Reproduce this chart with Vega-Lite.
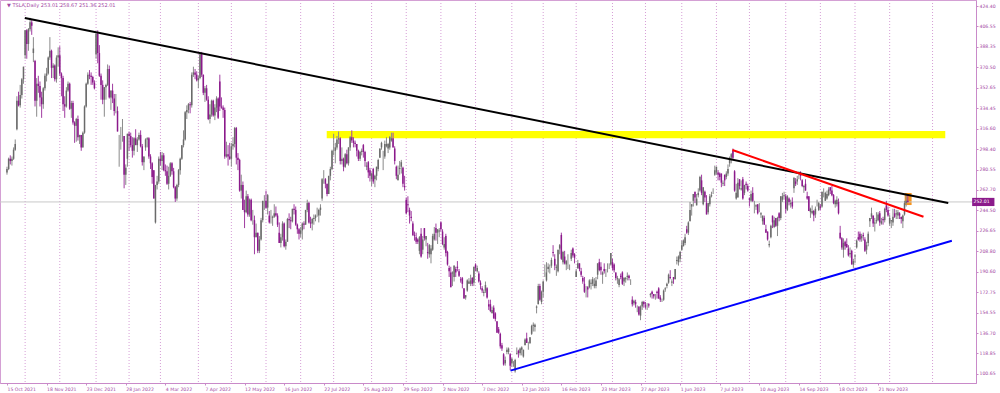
{
"$schema":"https://vega.github.io/schema/vega-lite/v6.json",
"width":976,"height":383,
"autosize":{"type":"none"},
"padding":{"left":0,"top":0,"right":24,"bottom":10},
"background":"white",
"config":{"view":{"stroke":"#d4a0d4","strokeWidth":1},"font":"DejaVu Sans","axis":{"labelOverlap":false,"labelBound":false,"labelFlush":false,"labelSeparation":0,"grid":false,"title":null}},
"resolve":{"scale":{"color":"independent"}},
"datasets":{
"candles":[
{"i":0,"o":278,"h":283,"l":276,"c":281},{"i":1,"o":281,"h":291,"l":280,"c":290},{"i":2,"o":290,"h":293,"l":285,"c":288},{"i":3,"o":288,"h":292,"l":284,"c":290},{"i":4,"o":290,"h":300,"l":289,"c":298},{"i":5,"o":298,"h":307,"l":297,"c":303},{"i":6,"o":316,"h":345,"l":315,"c":341},{"i":7,"o":341,"h":349,"l":336,"c":337},{"i":8,"o":337,"h":355,"l":335,"c":346},{"i":9,"o":346,"h":361,"l":343,"c":360},
{"i":10,"o":360,"h":371,"l":356,"c":371},{"i":11,"o":381,"h":403,"l":378,"c":403},{"i":12,"o":403,"h":404,"l":378,"c":391},{"i":13,"o":391,"h":405,"l":385,"c":404},{"i":14,"o":404,"h":414,"l":402,"c":410},{"i":15,"o":410,"h":412,"l":399,"c":407},{"i":16,"o":383,"h":397,"l":375,"c":387},{"i":17,"o":376,"h":377,"l":336,"c":341},{"i":18,"o":341,"h":361,"l":327,"c":356},{"i":19,"o":356,"h":363,"l":348,"c":354},
{"i":20,"o":354,"h":358,"l":336,"c":344},{"i":21,"o":344,"h":349,"l":326,"c":338},{"i":22,"o":338,"h":353,"l":334,"c":352},{"i":23,"o":352,"h":365,"l":350,"c":363},{"i":24,"o":363,"h":370,"l":358,"c":365},{"i":25,"o":365,"h":380,"l":364,"c":379},{"i":26,"o":379,"h":397,"l":377,"c":385},{"i":27,"o":385,"h":386,"l":361,"c":370},{"i":28,"o":370,"h":374,"l":361,"c":372},{"i":29,"o":372,"h":373,"l":358,"c":360},
{"i":30,"o":360,"h":381,"l":357,"c":379},{"i":31,"o":379,"h":388,"l":371,"c":381},{"i":32,"o":381,"h":389,"l":363,"c":365},{"i":33,"o":365,"h":366,"l":345,"c":361},{"i":34,"o":361,"h":363,"l":332,"c":338},{"i":35,"o":338,"h":345,"l":326,"c":336},{"i":36,"o":336,"h":353,"l":335,"c":350},{"i":37,"o":350,"h":358,"l":349,"c":356},{"i":38,"o":356,"h":357,"l":333,"c":334},{"i":39,"o":334,"h":341,"l":326,"c":339},
{"i":40,"o":339,"h":341,"l":320,"c":322},{"i":41,"o":322,"h":323,"l":304,"c":319},{"i":42,"o":319,"h":326,"l":305,"c":325},{"i":43,"o":325,"h":328,"l":306,"c":309},{"i":44,"o":309,"h":311,"l":303,"c":311},{"i":45,"o":311,"h":311,"l":297,"c":300},{"i":46,"o":300,"h":314,"l":300,"c":313},{"i":47,"o":313,"h":337,"l":312,"c":336},{"i":48,"o":336,"h":357,"l":335,"c":356},{"i":49,"o":356,"h":366,"l":355,"c":364},
{"i":50,"o":364,"h":368,"l":360,"c":363},{"i":51,"o":363,"h":366,"l":355,"c":362},{"i":52,"o":362,"h":363,"l":355,"c":357},{"i":53,"o":357,"h":359,"l":351,"c":352},{"i":54,"o":382,"h":400,"l":378,"c":400},{"i":55,"o":400,"h":403,"l":374,"c":383},{"i":56,"o":383,"h":390,"l":362,"c":363},{"i":57,"o":363,"h":365,"l":342,"c":355},{"i":58,"o":355,"h":359,"l":338,"c":342},{"i":59,"o":342,"h":353,"l":327,"c":353},
{"i":60,"o":353,"h":356,"l":342,"c":355},{"i":61,"o":355,"h":373,"l":354,"c":369},{"i":62,"o":369,"h":372,"l":343,"c":344},{"i":63,"o":344,"h":350,"l":333,"c":350},{"i":64,"o":350,"h":356,"l":339,"c":343},{"i":65,"o":343,"h":347,"l":328,"c":332},{"i":66,"o":332,"h":347,"l":330,"c":332},{"i":67,"o":332,"h":336,"l":314,"c":314},{"i":68,"o":310,"h":311,"l":283,"c":310},{"i":69,"o":306,"h":318,"l":298,"c":306},
{"i":70,"o":312,"h":325,"l":305,"c":312},{"i":71,"o":310,"h":310,"l":264,"c":276},{"i":72,"o":276,"h":285,"l":267,"c":282},{"i":73,"o":290,"h":312,"l":283,"c":312},{"i":74,"o":312,"h":314,"l":297,"c":310},{"i":75,"o":310,"h":313,"l":300,"c":302},{"i":76,"o":302,"h":309,"l":291,"c":297},{"i":77,"o":297,"h":309,"l":293,"c":308},{"i":78,"o":308,"h":316,"l":302,"c":302},{"i":79,"o":302,"h":309,"l":296,"c":307},
{"i":80,"o":307,"h":313,"l":306,"c":311},{"i":81,"o":311,"h":315,"l":300,"c":301},{"i":82,"o":301,"h":303,"l":284,"c":287},{"i":83,"o":287,"h":292,"l":280,"c":292},{"i":84,"o":300,"h":308,"l":297,"c":307},{"i":85,"o":307,"h":309,"l":300,"c":308},{"i":86,"o":308,"h":309,"l":290,"c":292},{"i":87,"o":292,"h":294,"l":281,"c":286},{"i":88,"o":286,"h":287,"l":268,"c":274},{"i":89,"o":280,"h":280,"l":255,"c":255},
{"i":90,"o":234,"h":267,"l":233,"c":267},{"i":91,"o":267,"h":275,"l":263,"c":270},{"i":92,"o":270,"h":292,"l":268,"c":290},{"i":93,"o":290,"h":296,"l":284,"c":288},{"i":94,"o":288,"h":296,"l":280,"c":293},{"i":95,"o":293,"h":295,"l":279,"c":280},{"i":96,"o":280,"h":285,"l":275,"c":279},{"i":97,"o":279,"h":284,"l":267,"c":268},{"i":98,"o":268,"h":283,"l":263,"c":275},{"i":99,"o":275,"h":287,"l":274,"c":286},
{"i":100,"o":286,"h":287,"l":276,"c":279},{"i":101,"o":279,"h":282,"l":264,"c":265},{"i":102,"o":265,"h":266,"l":252,"c":255},{"i":103,"o":255,"h":268,"l":253,"c":267},{"i":104,"o":267,"h":281,"l":265,"c":280},{"i":105,"o":280,"h":291,"l":276,"c":290},{"i":106,"o":290,"h":302,"l":289,"c":302},{"i":107,"o":302,"h":315,"l":300,"c":307},{"i":108,"o":307,"h":332,"l":306,"c":331},{"i":109,"o":331,"h":337,"l":325,"c":333},
{"i":110,"o":333,"h":339,"l":330,"c":338},{"i":111,"o":338,"h":340,"l":330,"c":337},{"i":112,"o":337,"h":366,"l":335,"c":364},{"i":113,"o":364,"h":371,"l":362,"c":366},{"i":114,"o":366,"h":369,"l":360,"c":364},{"i":115,"o":364,"h":367,"l":358,"c":359},{"i":116,"o":359,"h":363,"l":352,"c":361},{"i":117,"o":361,"h":384,"l":360,"c":382},{"i":118,"o":382,"h":384,"l":362,"c":364},{"i":119,"o":364,"h":364,"l":346,"c":348},
{"i":120,"o":348,"h":354,"l":340,"c":352},{"i":121,"o":352,"h":355,"l":341,"c":342},{"i":122,"o":342,"h":345,"l":324,"c":325},{"i":123,"o":325,"h":338,"l":321,"c":329},{"i":124,"o":329,"h":342,"l":327,"c":341},{"i":125,"o":341,"h":342,"l":327,"c":328},{"i":126,"o":328,"h":338,"l":324,"c":335},{"i":127,"o":335,"h":345,"l":331,"c":343},{"i":128,"o":343,"h":344,"l":325,"c":326},{"i":129,"o":358,"h":364,"l":332,"c":336},
{"i":130,"o":336,"h":344,"l":334,"c":335},{"i":131,"o":335,"h":337,"l":326,"c":333},{"i":132,"o":333,"h":335,"l":290,"c":292},{"i":133,"o":292,"h":305,"l":291,"c":294},{"i":134,"o":294,"h":302,"l":284,"c":292},{"i":135,"o":292,"h":304,"l":289,"c":290},{"i":136,"o":290,"h":304,"l":283,"c":301},{"i":137,"o":301,"h":309,"l":298,"c":303},{"i":138,"o":303,"h":318,"l":300,"c":317},{"i":139,"o":317,"h":318,"l":285,"c":291},
{"i":140,"o":291,"h":295,"l":280,"c":289},{"i":141,"o":289,"h":290,"l":261,"c":262},{"i":142,"o":262,"h":276,"l":255,"c":267},{"i":143,"o":267,"h":270,"l":245,"c":245},{"i":144,"o":245,"h":254,"l":229,"c":243},{"i":145,"o":243,"h":262,"l":242,"c":257},{"i":146,"o":257,"h":259,"l":239,"c":241},{"i":147,"o":241,"h":255,"l":239,"c":254},{"i":148,"o":254,"h":255,"l":235,"c":236},{"i":149,"o":236,"h":245,"l":232,"c":236},
{"i":150,"o":236,"h":240,"l":206,"c":221},{"i":151,"o":221,"h":233,"l":221,"c":225},{"i":152,"o":225,"h":225,"l":207,"c":209},{"i":153,"o":209,"h":222,"l":207,"c":219},{"i":154,"o":219,"h":238,"l":218,"c":236},{"i":155,"o":236,"h":253,"l":234,"c":253},{"i":156,"o":253,"h":258,"l":245,"c":253},{"i":157,"o":253,"h":262,"l":246,"c":247},{"i":158,"o":247,"h":259,"l":241,"c":258},{"i":159,"o":240,"h":244,"l":233,"c":234},
{"i":160,"o":238,"h":245,"l":233,"c":238},{"i":161,"o":238,"h":240,"l":231,"c":239},{"i":162,"o":239,"h":250,"l":238,"c":242},{"i":163,"o":242,"h":248,"l":239,"c":240},{"i":164,"o":240,"h":242,"l":230,"c":232},{"i":165,"o":225,"h":234,"l":216,"c":216},{"i":166,"o":216,"h":224,"l":212,"c":221},{"i":167,"o":221,"h":235,"l":218,"c":233},{"i":168,"o":233,"h":234,"l":212,"c":213},{"i":169,"o":213,"h":219,"l":210,"c":217},
{"i":170,"o":217,"h":238,"l":217,"c":237},{"i":171,"o":237,"h":242,"l":229,"c":236},{"i":172,"o":236,"h":239,"l":228,"c":235},{"i":173,"o":235,"h":246,"l":234,"c":246},{"i":174,"o":246,"h":250,"l":241,"c":245},{"i":175,"o":245,"h":248,"l":231,"c":232},{"i":176,"o":232,"h":233,"l":224,"c":228},{"i":177,"o":228,"h":229,"l":219,"c":224},{"i":178,"o":224,"h":230,"l":221,"c":227},{"i":179,"o":227,"h":234,"l":219,"c":233},
{"i":180,"o":233,"h":235,"l":228,"c":232},{"i":181,"o":232,"h":245,"l":232,"c":245},{"i":182,"o":245,"h":254,"l":243,"c":251},{"i":183,"o":251,"h":252,"l":233,"c":234},{"i":184,"o":234,"h":239,"l":229,"c":233},{"i":185,"o":233,"h":238,"l":227,"c":237},{"i":186,"o":237,"h":241,"l":232,"c":238},{"i":187,"o":238,"h":241,"l":235,"c":240},{"i":188,"o":240,"h":247,"l":239,"c":240},{"i":189,"o":240,"h":246,"l":234,"c":245},
{"i":190,"o":245,"h":250,"l":240,"c":247},{"i":191,"o":255,"h":273,"l":253,"c":272},{"i":192,"o":272,"h":280,"l":268,"c":272},{"i":193,"o":272,"h":273,"l":264,"c":268},{"i":194,"o":268,"h":268,"l":257,"c":259},{"i":195,"o":259,"h":275,"l":259,"c":275},{"i":196,"o":275,"h":283,"l":271,"c":281},{"i":197,"o":281,"h":298,"l":280,"c":297},{"i":198,"o":297,"h":312,"l":293,"c":297},{"i":199,"o":297,"h":304,"l":286,"c":300},
{"i":200,"o":300,"h":310,"l":298,"c":307},{"i":201,"o":307,"h":314,"l":303,"c":308},{"i":202,"o":308,"h":309,"l":285,"c":288},{"i":203,"o":288,"h":300,"l":285,"c":290},{"i":204,"o":290,"h":291,"l":279,"c":283},{"i":205,"o":283,"h":295,"l":282,"c":294},{"i":206,"o":294,"h":298,"l":285,"c":286},{"i":207,"o":286,"h":300,"l":284,"c":300},{"i":208,"o":300,"h":310,"l":297,"c":309},{"i":209,"o":309,"h":315,"l":304,"c":306},
{"i":210,"o":306,"h":309,"l":300,"c":304},{"i":211,"o":304,"h":306,"l":300,"c":303},{"i":212,"o":303,"h":303,"l":292,"c":297},{"i":213,"o":297,"h":298,"l":288,"c":290},{"i":214,"o":290,"h":297,"l":288,"c":296},{"i":215,"o":296,"h":299,"l":293,"c":297},{"i":216,"o":302,"h":303,"l":291,"c":296},{"i":217,"o":296,"h":297,"l":283,"c":288},{"i":218,"o":283,"h":287,"l":280,"c":284},{"i":219,"o":287,"h":288,"l":273,"c":278},
{"i":220,"o":280,"h":282,"l":270,"c":275},{"i":221,"o":272,"h":278,"l":266,"c":277},{"i":222,"o":281,"h":282,"l":268,"c":270},{"i":223,"o":272,"h":276,"l":265,"c":275},{"i":224,"o":275,"h":283,"l":271,"c":283},{"i":225,"o":281,"h":290,"l":279,"c":289},{"i":226,"o":291,"h":299,"l":291,"c":299},{"i":227,"o":300,"h":305,"l":298,"c":304},{"i":228,"o":292,"h":297,"l":280,"c":292},{"i":229,"o":292,"h":306,"l":290,"c":303},
{"i":230,"o":301,"h":309,"l":300,"c":303},{"i":231,"o":299,"h":304,"l":295,"c":303},{"i":232,"o":300,"h":310,"l":298,"c":309},{"i":233,"o":306,"h":313,"l":305,"c":308},{"i":234,"o":308,"h":313,"l":300,"c":300},{"i":235,"o":299,"h":301,"l":285,"c":288},{"i":236,"o":283,"h":284,"l":272,"c":275},{"i":237,"o":271,"h":284,"l":271,"c":276},{"i":238,"o":281,"h":288,"l":276,"c":282},{"i":239,"o":283,"h":289,"l":277,"c":287},
{"i":240,"o":282,"h":283,"l":265,"c":268},{"i":241,"o":266,"h":275,"l":262,"c":265},{"i":242,"o":254,"h":256,"l":241,"c":242},{"i":243,"o":250,"h":257,"l":243,"c":249},{"i":244,"o":245,"h":247,"l":233,"c":240},{"i":245,"o":239,"h":244,"l":235,"c":238},{"i":246,"o":233,"h":235,"l":222,"c":223},{"i":247,"o":223,"h":226,"l":218,"c":222},{"i":248,"o":221,"h":225,"l":215,"c":217},{"i":249,"o":219,"h":220,"l":215,"c":217},
{"i":250,"o":209,"h":222,"l":206,"c":221},{"i":251,"o":224,"h":229,"l":203,"c":204},{"i":252,"o":210,"h":222,"l":206,"c":219},{"i":253,"o":229,"h":229,"l":218,"c":220},{"i":254,"o":219,"h":222,"l":213,"c":222},{"i":255,"o":208,"h":216,"l":202,"c":207},{"i":256,"o":206,"h":215,"l":203,"c":214},{"i":257,"o":206,"h":214,"l":198,"c":211},{"i":258,"o":210,"h":224,"l":209,"c":222},{"i":259,"o":219,"h":230,"l":218,"c":224},
{"i":260,"o":229,"h":233,"l":218,"c":225},{"i":261,"o":225,"h":228,"l":215,"c":228},{"i":262,"o":226,"h":229,"l":221,"c":227},{"i":263,"o":234,"h":235,"l":226,"c":228},{"i":264,"o":226,"h":228,"l":214,"c":215},{"i":265,"o":212,"h":221,"l":210,"c":215},{"i":266,"o":222,"h":224,"l":204,"c":207},{"i":267,"o":208,"h":209,"l":196,"c":197},{"i":268,"o":194,"h":196,"l":186,"c":191},{"i":269,"o":190,"h":195,"l":177,"c":177},
{"i":270,"o":189,"h":191,"l":178,"c":190},{"i":271,"o":186,"h":196,"l":182,"c":196},{"i":272,"o":193,"h":195,"l":186,"c":190},{"i":273,"o":195,"h":200,"l":191,"c":194},{"i":274,"o":191,"h":193,"l":186,"c":187},{"i":275,"o":184,"h":186,"l":181,"c":183},{"i":276,"o":185,"h":186,"l":176,"c":180},{"i":277,"o":176,"h":176,"l":167,"c":167},{"i":278,"o":168,"h":170,"l":166,"c":170},{"i":279,"o":174,"h":184,"l":173,"c":183},
{"i":280,"o":180,"h":185,"l":180,"c":182},{"i":281,"o":180,"h":188,"l":178,"c":183},{"i":282,"o":185,"h":186,"l":178,"c":180},{"i":283,"o":181,"h":195,"l":178,"c":195},{"i":284,"o":197,"h":198,"l":191,"c":194},{"i":285,"o":191,"h":196,"l":190,"c":194},{"i":286,"o":189,"h":191,"l":181,"c":182},{"i":287,"o":181,"h":183,"l":175,"c":179},{"i":288,"o":176,"h":178,"l":172,"c":174},{"i":289,"o":172,"h":175,"l":169,"c":173},
{"i":290,"o":174,"h":182,"l":172,"c":179},{"i":291,"o":176,"h":177,"l":167,"c":168},{"i":292,"o":162,"h":166,"l":157,"c":160},{"i":293,"o":162,"h":166,"l":155,"c":156},{"i":294,"o":154,"h":160,"l":154,"c":157},{"i":295,"o":159,"h":161,"l":149,"c":150},{"i":296,"o":154,"h":155,"l":147,"c":149},{"i":297,"o":147,"h":147,"l":137,"c":137},{"i":298,"o":140,"h":142,"l":136,"c":137},{"i":299,"o":136,"h":137,"l":123,"c":125},
{"i":300,"o":126,"h":128,"l":121,"c":123},{"i":301,"o":118,"h":119,"l":108,"c":109},{"i":302,"o":110,"h":116,"l":108,"c":113},{"i":303,"o":120,"h":124,"l":118,"c":122},{"i":304,"o":120,"h":124,"l":118,"c":123},{"i":305,"o":118,"h":119,"l":104,"c":108},{"i":306,"o":110,"h":115,"l":107,"c":114},{"i":307,"o":110,"h":112,"l":107,"c":110},{"i":308,"o":103,"h":114,"l":101.8,"c":113},{"i":309,"o":118,"h":124,"l":118,"c":119},
{"i":310,"o":121,"h":122,"l":115,"c":119},{"i":311,"o":119,"h":124,"l":117,"c":123},{"i":312,"o":122,"h":125,"l":117,"c":124},{"i":313,"o":116,"h":122,"l":115,"c":122},{"i":314,"o":126,"h":132,"l":126,"c":131},{"i":315,"o":132,"h":137,"l":128,"c":128},{"i":316,"o":127,"h":129,"l":122,"c":127},{"i":317,"o":128,"h":133,"l":127,"c":133},{"i":318,"o":136,"h":144,"l":135,"c":143},{"i":319,"o":143,"h":146,"l":138,"c":144},
{"i":320,"o":142,"h":145,"l":138,"c":144},{"i":321,"o":159,"h":161,"l":154,"c":160},{"i":322,"o":162,"h":180,"l":162,"c":178},{"i":323,"o":178,"h":180,"l":165,"c":166},{"i":324,"o":164,"h":174,"l":162,"c":173},{"i":325,"o":173,"h":183,"l":168,"c":182},{"i":326,"o":188,"h":197,"l":186,"c":188},{"i":327,"o":183,"h":199,"l":182,"c":190},{"i":328,"o":193,"h":198,"l":190,"c":195},{"i":329,"o":196,"h":197,"l":189,"c":196},
{"i":330,"o":196,"h":203,"l":194,"c":201},{"i":331,"o":208,"h":214,"l":204,"c":207},{"i":332,"o":202,"h":206,"l":192,"c":196},{"i":333,"o":194,"h":197,"l":187,"c":195},{"i":334,"o":191,"h":210,"l":190,"c":210},{"i":335,"o":211,"h":215,"l":206,"c":214},{"i":336,"o":223,"h":225,"l":201,"c":202},{"i":337,"o":199,"h":209,"l":197,"c":208},{"i":338,"o":204,"h":209,"l":197,"c":198},{"i":339,"o":197,"h":201,"l":192,"c":200},
{"i":340,"o":203,"h":206,"l":193,"c":203},{"i":341,"o":196,"h":197,"l":192,"c":196},{"i":342,"o":202,"h":210,"l":200,"c":207},{"i":343,"o":211,"h":212,"l":203,"c":205},{"i":344,"o":206,"h":207,"l":198,"c":203},{"i":345,"o":186,"h":193,"l":186,"c":191},{"i":346,"o":194,"h":201,"l":193,"c":198},{"i":347,"o":198,"h":198,"l":191,"c":193},{"i":348,"o":191,"h":194,"l":186,"c":188},{"i":349,"o":185,"h":187,"l":180,"c":182},
{"i":350,"o":180,"h":186,"l":172,"c":173},{"i":351,"o":173,"h":178,"l":168,"c":173},{"i":352,"o":177,"h":178,"l":168,"c":175},{"i":353,"o":177,"h":184,"l":176,"c":183},{"i":354,"o":180,"h":184,"l":175,"c":181},{"i":355,"o":180,"h":186,"l":178,"c":184},{"i":356,"o":178,"h":185,"l":176,"c":180},{"i":357,"o":178,"h":186,"l":176,"c":183},{"i":358,"o":188,"h":198,"l":184,"c":198},{"i":359,"o":199,"h":202,"l":191,"c":192},
{"i":360,"o":195,"h":199,"l":188,"c":192},{"i":361,"o":188,"h":191,"l":180,"c":190},{"i":362,"o":193,"h":198,"l":189,"c":191},{"i":363,"o":189,"h":193,"l":186,"c":189},{"i":364,"o":193,"h":198,"l":190,"c":193},{"i":365,"o":195,"h":198,"l":193,"c":195},{"i":366,"o":197,"h":207,"l":196,"c":207},{"i":367,"o":199,"h":202,"l":192,"c":194},{"i":368,"o":197,"h":198,"l":190,"c":192},{"i":369,"o":190,"h":190,"l":183,"c":185},
{"i":370,"o":184,"h":187,"l":180,"c":185},{"i":371,"o":179,"h":185,"l":177,"c":184},{"i":372,"o":187,"h":189,"l":184,"c":186},{"i":373,"o":190,"h":191,"l":179,"c":180},{"i":374,"o":182,"h":186,"l":178,"c":185},{"i":375,"o":184,"h":186,"l":181,"c":185},{"i":376,"o":186,"h":190,"l":183,"c":187},{"i":377,"o":187,"h":188,"l":183,"c":185},{"i":378,"o":180,"h":184,"l":179,"c":180},{"i":379,"o":166,"h":169,"l":160,"c":162},
{"i":380,"o":163,"h":166,"l":161,"c":165},{"i":381,"o":164,"h":166,"l":159,"c":162},{"i":382,"o":160,"h":161,"l":155,"c":160},{"i":383,"o":160,"h":160,"l":152,"c":153},{"i":384,"o":152,"h":161,"l":148,"c":160},{"i":385,"o":160,"h":165,"l":157,"c":164},{"i":386,"o":164,"h":165,"l":159,"c":162},{"i":387,"o":161,"h":164,"l":158,"c":160},{"i":388,"o":160,"h":163,"l":157,"c":160},{"i":389,"o":162,"h":163,"l":159,"c":161},
{"i":390,"o":170,"h":172,"l":168,"c":171},{"i":391,"o":173,"h":174,"l":167,"c":171},{"i":392,"o":171,"h":171,"l":167,"c":169},{"i":393,"o":168,"h":171,"l":166,"c":168},{"i":394,"o":173,"h":174,"l":167,"c":172},{"i":395,"o":176,"h":177,"l":167,"c":167},{"i":396,"o":168,"h":170,"l":164,"c":166},{"i":397,"o":166,"h":167,"l":164,"c":166},{"i":398,"o":166,"h":175,"l":165,"c":174},{"i":399,"o":175,"h":177,"l":173,"c":176},
{"i":400,"o":178,"h":181,"l":176,"c":180},{"i":401,"o":181,"h":189,"l":180,"c":188},{"i":402,"o":186,"h":192,"l":184,"c":185},{"i":403,"o":181,"h":184,"l":178,"c":182},{"i":404,"o":186,"h":186,"l":180,"c":184},{"i":405,"o":184,"h":193,"l":184,"c":193},{"i":406,"o":200,"h":204,"l":197,"c":201},{"i":407,"o":199,"h":205,"l":196,"c":204},{"i":408,"o":202,"h":209,"l":199,"c":208},{"i":409,"o":210,"h":218,"l":209,"c":214},
{"i":410,"o":213,"h":219,"l":213,"c":218},{"i":411,"o":216,"h":224,"l":214,"c":221},{"i":412,"o":228,"h":231,"l":224,"c":225},{"i":413,"o":225,"h":235,"l":223,"c":234},{"i":414,"o":235,"h":252,"l":235,"c":245},{"i":415,"o":248,"h":250,"l":240,"c":250},{"i":416,"o":253,"h":259,"l":248,"c":259},{"i":417,"o":261,"h":261,"l":251,"c":256},{"i":418,"o":249,"h":259,"l":249,"c":255},{"i":419,"o":258,"h":264,"l":256,"c":260},
{"i":420,"o":262,"h":275,"l":261,"c":274},{"i":421,"o":271,"h":276,"l":258,"c":260},{"i":422,"o":250,"h":265,"l":249,"c":265},{"i":423,"o":261,"h":262,"l":252,"c":256},{"i":424,"o":251,"h":258,"l":241,"c":241},{"i":425,"o":243,"h":250,"l":241,"c":251},{"i":426,"o":250,"h":259,"l":248,"c":257},{"i":427,"o":257,"h":261,"l":256,"c":258},{"i":428,"o":261,"h":264,"l":259,"c":261},{"i":429,"o":276,"h":284,"l":275,"c":280},
{"i":430,"o":278,"h":283,"l":276,"c":283},{"i":431,"o":278,"h":280,"l":271,"c":276},{"i":432,"o":277,"h":278,"l":271,"c":274},{"i":433,"o":277,"h":277,"l":265,"c":269},{"i":434,"o":268,"h":271,"l":266,"c":269},{"i":435,"o":276,"h":276,"l":266,"c":271},{"i":436,"o":274,"h":279,"l":272,"c":277},{"i":437,"o":277,"h":285,"l":275,"c":281},{"i":438,"o":286,"h":292,"l":283,"c":291},{"i":439,"o":291,"h":295,"l":286,"c":294},
{"i":440,"o":297,"h":299,"l":289,"c":291},{"i":441,"o":279,"h":280,"l":261,"c":262},{"i":442,"o":255,"h":268,"l":254,"c":260},{"i":443,"o":256,"h":273,"l":256,"c":269},{"i":444,"o":272,"h":272,"l":263,"c":266},{"i":445,"o":263,"h":271,"l":262,"c":264},{"i":446,"o":272,"h":274,"l":254,"c":255},{"i":447,"o":260,"h":267,"l":258,"c":267},{"i":448,"o":268,"h":270,"l":263,"c":267},{"i":449,"o":266,"h":268,"l":261,"c":262},
{"i":450,"o":255,"h":256,"l":248,"c":254},{"i":451,"o":253,"h":262,"l":252,"c":259},{"i":452,"o":260,"h":265,"l":252,"c":253},{"i":453,"o":251,"h":253,"l":242,"c":251},{"i":454,"o":248,"h":250,"l":245,"c":249},{"i":455,"o":250,"h":250,"l":241,"c":242},{"i":456,"o":245,"h":251,"l":243,"c":245},{"i":457,"o":241,"h":243,"l":238,"c":242},{"i":458,"o":235,"h":240,"l":232,"c":240},{"i":459,"o":238,"h":240,"l":232,"c":232},
{"i":460,"o":228,"h":232,"l":225,"c":225},{"i":461,"o":226,"h":226,"l":218,"c":219},{"i":462,"o":214,"h":218,"l":212,"c":215},{"i":463,"o":221,"h":232,"l":220,"c":231},{"i":464,"o":240,"h":240,"l":229,"c":234},{"i":465,"o":230,"h":239,"l":229,"c":236},{"i":466,"o":238,"h":238,"l":230,"c":231},{"i":467,"o":231,"h":239,"l":222,"c":238},{"i":468,"o":242,"h":243,"l":235,"c":238},{"i":469,"o":238,"h":257,"l":236,"c":257},
{"i":470,"o":254,"h":260,"l":252,"c":257},{"i":471,"o":257,"h":261,"l":254,"c":258},{"i":472,"o":257,"h":259,"l":242,"c":246},{"i":473,"o":245,"h":258,"l":244,"c":257},{"i":474,"o":255,"h":256,"l":249,"c":252},{"i":475,"o":250,"h":254,"l":247,"c":251},{"i":476,"o":252,"h":256,"l":246,"c":248},{"i":477,"o":264,"h":274,"l":260,"c":273},{"i":478,"o":270,"h":273,"l":266,"c":268},{"i":479,"o":270,"h":275,"l":267,"c":272},
{"i":480,"o":277,"h":279,"l":272,"c":277},{"i":481,"o":277,"h":279,"l":271,"c":275},{"i":482,"o":271,"h":272,"l":265,"c":266},{"i":483,"o":265,"h":267,"l":260,"c":266},{"i":484,"o":268,"h":272,"l":262,"c":262},{"i":485,"o":257,"h":261,"l":254,"c":255},{"i":486,"o":257,"h":257,"l":244,"c":244},{"i":487,"o":243,"h":247,"l":238,"c":246},{"i":488,"o":242,"h":249,"l":241,"c":244},{"i":489,"o":244,"h":245,"l":235,"c":240},
{"i":490,"o":241,"h":248,"l":238,"c":246},{"i":491,"o":250,"h":254,"l":248,"c":250},{"i":492,"o":245,"h":252,"l":244,"c":251},{"i":493,"o":248,"h":250,"l":245,"c":247},{"i":494,"o":248,"h":261,"l":247,"c":261},{"i":495,"o":260,"h":264,"l":256,"c":260},{"i":496,"o":253,"h":261,"l":253,"c":260},{"i":497,"o":255,"h":262,"l":254,"c":259},{"i":498,"o":258,"h":265,"l":257,"c":263},{"i":499,"o":265,"h":265,"l":259,"c":262},
{"i":500,"o":262,"h":266,"l":257,"c":258},{"i":501,"o":258,"h":259,"l":250,"c":251},{"i":502,"o":250,"h":254,"l":247,"c":253},{"i":503,"o":250,"h":257,"l":248,"c":254},{"i":504,"o":252,"h":255,"l":241,"c":242},{"i":505,"o":225,"h":231,"l":219,"c":220},{"i":506,"o":220,"h":221,"l":210,"c":212},{"i":507,"o":210,"h":220,"l":203,"c":216},{"i":508,"o":217,"h":218,"l":210,"c":213},{"i":509,"o":215,"h":220,"l":212,"c":212},
{"i":510,"o":211,"h":214,"l":204,"c":205},{"i":511,"o":206,"h":212,"l":203,"c":207},{"i":512,"o":209,"h":210,"l":197,"c":197},{"i":513,"o":197,"h":202,"l":194,"c":200},{"i":514,"o":204,"h":206,"l":198,"c":205},{"i":515,"o":212,"h":219,"l":211,"c":218},{"i":516,"o":221,"h":226,"l":218,"c":219},{"i":517,"o":224,"h":226,"l":217,"c":219},{"i":518,"o":220,"h":224,"l":217,"c":222},{"i":519,"o":223,"h":225,"l":218,"c":222},
{"i":520,"o":219,"h":221,"l":208,"c":209},{"i":521,"o":210,"h":217,"l":206,"c":214},{"i":522,"o":216,"h":226,"l":213,"c":224},{"i":523,"o":235,"h":238,"l":230,"c":238},{"i":524,"o":239,"h":247,"l":237,"c":242},{"i":525,"o":240,"h":240,"l":230,"c":233},{"i":526,"o":233,"h":238,"l":226,"c":234},{"i":527,"o":235,"h":243,"l":233,"c":236},{"i":528,"o":236,"h":243,"l":235,"c":241},{"i":529,"o":242,"h":244,"l":231,"c":234},
{"i":530,"o":233,"h":238,"l":232,"c":235},{"i":531,"o":237,"h":239,"l":232,"c":236},{"i":532,"o":236,"h":247,"l":234,"c":246},{"i":533,"o":249,"h":253,"l":243,"c":245},{"i":534,"o":245,"h":248,"l":239,"c":240},{"i":535,"o":233,"h":241,"l":231,"c":238},{"i":536,"o":235,"h":236,"l":229,"c":236},{"i":537,"o":234,"h":246,"l":231,"c":239},{"i":538,"o":242,"h":246,"l":238,"c":239},{"i":539,"o":241,"h":245,"l":237,"c":242},
{"i":540,"o":240,"h":245,"l":237,"c":243},{"i":541,"o":242,"h":243,"l":237,"c":240},{"i":542,"o":239,"h":239,"l":233,"c":237},{"i":543,"o":235,"h":241,"l":229,"c":240},{"i":544,"o":241,"h":253,"l":240,"c":251},{"i":545,"o":251,"h":258,"l":248,"c":253},{"i":546,"o":253.01,"h":258.67,"l":251.36,"c":252.01}
],
"lines":[
{"name":"black","i":10.8,"p":413.8},{"name":"black","i":570.5,"p":251.1},
{"name":"red","i":439.7,"p":297.7},{"name":"red","i":555.5,"p":239.0},
{"name":"blue","i":305.2,"p":103.6},{"name":"blue","i":572.7,"p":217.9}
],
"rects":[
{"name":"yellow","i1":193.8,"i2":568.7,"p1":308.0,"p2":314.4},
{"name":"orange","i1":544.1,"i2":548.3,"p1":249.3,"p2":259.9}
],
"grid":[{"g":11},{"g":32},{"g":54},{"g":74},{"g":93},{"g":116},{"g":136},{"g":157},{"g":178},{"g":198},{"g":221},{"g":242},{"g":263},{"g":284},{"g":306},{"g":325},{"g":345},{"g":367},{"g":387},{"g":409},{"g":430},{"g":450},{"g":472},{"g":493},{"g":514},{"g":535},{"g":561}]
},
"layer":[
{"data":{"name":"grid"},
 "mark":{"type":"rule","color":"#d69ed6","strokeDash":[1,2],"strokeWidth":1},
 "encoding":{"x":{"field":"g","type":"quantitative","title":null,"scale":{"domain":[-1.2,584.3],"nice":false,"zero":false},
  "axis":{"values":[0,24,48,72,96,120,144,168,192,216,240,264,288,312,336,360,384,408,432,456,480,504,528],"tickCount":40,
   "labelExpr":"['15 Oct 2021','18 Nov 2021','23 Dec 2021','28 Jan 2022','4 Mar 2022','7 Apr 2022','12 May 2022','16 Jun 2022','22 Jul 2022','25 Aug 2022','29 Sep 2022','2 Nov 2022','7 Dec 2022','12 Jan 2023','16 Feb 2023','23 Mar 2023','27 Apr 2023','1 Jun 2023','7 Jul 2023','10 Aug 2023','14 Sep 2023','18 Oct 2023','21 Nov 2023'][round(datum.value/24)]",
   "labelAlign":"left","labelFontSize":4.6,"labelColor":"#a347a3","labelPadding":1,"tickSize":2,"tickColor":"#c98ac9","domainColor":"#c98ac9","grid":false,"title":null,"labelBound":false,"labelOverlap":false,"labelFlush":false}}}},
{"data":{"name":"rects"},
 "mark":{"type":"rect"},
 "encoding":{"x":{"field":"i1","type":"quantitative","title":null},"x2":{"field":"i2"},
  "y":{"field":"p1","type":"quantitative","title":null},"y2":{"field":"p2"},
  "color":{"field":"name","type":"nominal","scale":{"domain":["yellow","orange"],"range":["#ffff00","#f7941d"]},"legend":null}}},
{"data":{"values":[{}]},
 "mark":{"type":"rule","color":"#c8c8c8","strokeWidth":1},
 "encoding":{"y":{"datum":252.01,"type":"quantitative","title":null}}},
{"data":{"name":"candles"},
 "mark":{"type":"rule","strokeWidth":1},
 "encoding":{"x":{"field":"i","type":"quantitative","title":null},
  "y":{"field":"l","type":"quantitative","title":null,"scale":{"domain":[92.73,429.68],"nice":false,"zero":false},
   "axis":{"orient":"right","values":[424.40,406.55,388.35,370.50,352.65,334.45,316.60,298.40,280.55,262.70,244.50,226.65,208.80,190.60,172.75,154.55,136.70,118.85,100.65],"tickCount":40,"format":".2f","labelFontSize":4.6,"labelColor":"#a347a3","labelPadding":1,"tickSize":2,"tickColor":"#c98ac9","domainColor":"#c98ac9","grid":false,"title":null,"labelOverlap":false,"labelBound":false,"labelFlush":false}},
  "y2":{"field":"h"},
  "color":{"condition":{"test":"datum.c >= datum.o","value":"#8a8a8a"},"value":"#a03ca0"}}},
{"data":{"name":"candles"},
 "mark":{"type":"bar","size":1.5},
 "encoding":{"x":{"field":"i","type":"quantitative","title":null},
  "y":{"field":"o","type":"quantitative","title":null},"y2":{"field":"c"},
  "color":{"condition":{"test":"datum.c >= datum.o","value":"#6a6a6a"},"value":"#8b1a8b"}}},
{"data":{"name":"lines"},
 "mark":{"type":"line","strokeWidth":2},
 "encoding":{"x":{"field":"i","type":"quantitative","title":null},"y":{"field":"p","type":"quantitative","title":null},
  "detail":{"field":"name"},
  "color":{"field":"name","type":"nominal","scale":{"domain":["black","red","blue"],"range":["#000000","#ff0000","#0000ff"]},"legend":null}}},
{"data":{"values":[{}]},
 "mark":{"type":"text","align":"left","baseline":"middle","fontSize":5,"color":"#a347a3"},
 "encoding":{"x":{"datum":0,"type":"quantitative","title":null},"y":{"datum":425.3,"type":"quantitative","title":null},"text":{"value":"▼  TSLA,Daily  253.01 258.67 251.36 252.01"}}},
{"data":{"values":[{}]},
 "mark":{"type":"rect","color":"#8b1a8b"},
 "encoding":{"x":{"datum":585,"type":"quantitative","title":null},"x2":{"datum":598.5},"y":{"datum":255.6,"type":"quantitative","title":null},"y2":{"datum":248.4}}},
{"data":{"values":[{}]},
 "mark":{"type":"text","align":"left","baseline":"middle","fontSize":4.6,"color":"#ffffff"},
 "encoding":{"x":{"datum":585.8,"type":"quantitative","title":null},"y":{"datum":252.01,"type":"quantitative","title":null},"text":{"value":"252.01"}}}
]
}
